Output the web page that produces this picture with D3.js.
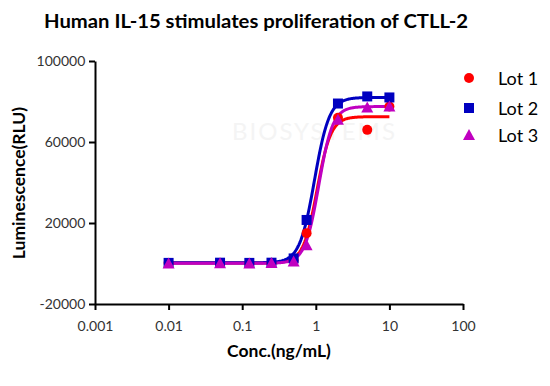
<!DOCTYPE html>
<html><head><meta charset="utf-8">
<script src="https://cdn.jsdelivr.net/npm/d3@7"></script>
<style>body{margin:0;background:#fff}svg{display:block}</style>
</head><body><svg id="c" width="550" height="386"></svg>
<script>
const conc = [0.01, 0.05, 0.125, 0.25, 0.5, 0.75, 2, 5, 10];
const lot1 = [200, 300, 200, 300, 1500, 15000, 72000, 66000, 77500];
const lot2 = [300, 400, 300, 400, 2500, 21500, 79000, 82500, 82000];
const lot3 = [0, 100, 0, 200, 1000, 9000, 71000, 77000, 77500];
const seriesNames = ["Lot 1", "Lot 2", "Lot 3"];
const seriesColors = ["#ff0000", "#0000c0", "#c000c0"];
const seriesShapes = ["circle", "square", "triangle"];
// 4-parameter logistic fits: [bottom, top, EC50, hill]
const fit1 = [250, 72500, 1.04, 4.6];
const fit2 = [350, 82000, 0.96, 4.3];
const fit3 = [100, 77500, 1.1, 4.6];
const xTicks = [0.001, 0.01, 0.1, 1, 10, 100];
const xTickLabels = ["0.001", "0.01", "0.1", "1", "10", "100"];
const yTicks = [-20000, 20000, 60000, 100000];
const yTickLabels = ["-20000", "20000", "60000", "100000"];

const svg = d3.select("#c");
const x = d3.scaleLog().domain([0.001, 100]).range([95, 463]);
const y = d3.scaleLinear().domain([-20000, 100000]).range([304, 61]);

const font = "Lato, 'Open Sans', sans-serif";

// faint watermark
svg.append("text").attr("x", 232).attr("y", 140).attr("font-family", font)
  .attr("font-size", 24).attr("fill", "#f4f4f4").attr("letter-spacing", 2).text("BIOSYSTEMS");

svg.append("text").attr("x", 256).attr("y", 28).attr("text-anchor", "middle")
  .attr("font-family", font).attr("font-weight", "bold").attr("font-size", 19)
  .attr("textLength", 424).attr("lengthAdjust", "spacingAndGlyphs")
  .attr("fill", "#000").text("Human IL-15 stimulates proliferation of CTLL-2");

const xAxis = svg.append("g").attr("transform", "translate(0,304)")
  .call(d3.axisBottom(x).tickValues(xTicks).tickFormat((d, i) => xTickLabels[i]).tickSize(6).tickSizeOuter(0));
const yAxis = svg.append("g").attr("transform", "translate(95,0)")
  .call(d3.axisLeft(y).tickValues(yTicks).tickFormat((d, i) => yTickLabels[i]).tickSize(6).tickSizeOuter(0));
[xAxis, yAxis].forEach(g => {
  g.select(".domain").attr("stroke", "#000").attr("stroke-width", 2);
  g.selectAll(".tick line").attr("stroke", "#000").attr("stroke-width", 2);
  g.selectAll(".tick text").attr("font-family", font).attr("font-size", 14).attr("fill", "#333");
});
xAxis.selectAll(".tick text").attr("dy", "1.25em");
yAxis.selectAll(".tick text").attr("dx", "-0.05em");

svg.append("text").attr("x", 279).attr("y", 357).attr("text-anchor", "middle")
  .attr("font-family", font).attr("font-weight", "bold").attr("font-size", 17.5).text("Conc.(ng/mL)");
svg.append("text").attr("transform", "translate(25,183) rotate(-90)").attr("text-anchor", "middle")
  .attr("font-family", font).attr("font-weight", "bold").attr("font-size", 17.5).text("Luminescence(RLU)");

const lots = [lot1, lot2, lot3];
const fits = [fit1, fit2, fit3];
const fx = d3.range(0, 301).map(i => Math.pow(10, -2 + i * 3 / 300));
const line = d3.line().x(d => x(d[0])).y(d => y(d[1]));

function symbol(g, shape, color, cx, cy) {
  if (shape === "circle") g.append("circle").attr("cx", cx).attr("cy", cy).attr("r", 5).attr("fill", color);
  else if (shape === "square") g.append("rect").attr("x", cx - 5).attr("y", cy - 5).attr("width", 10).attr("height", 10).attr("fill", color);
  else g.append("path").attr("d", `M${cx},${cy - 6}L${cx + 6},${cy + 5}L${cx - 6},${cy + 5}Z`).attr("fill", color);
}

lots.forEach((vals, s) => {
  const [b, t, c, h] = fits[s];
  const pts = fx.map(v => [v, b + (t - b) / (1 + Math.pow(c / v, h))]);
  svg.append("path").attr("d", line(pts)).attr("fill", "none")
    .attr("stroke", seriesColors[s]).attr("stroke-width", 3);
});
lots.forEach((vals, s) => {
  const g = svg.append("g");
  vals.forEach((v, i) => symbol(g, seriesShapes[s], seriesColors[s], x(conc[i]), y(v)));
});

// legend
const legY = [78, 108, 135];
seriesNames.forEach((n, s) => {
  symbol(svg, seriesShapes[s], seriesColors[s], 469, legY[s]);
  svg.append("text").attr("x", 498).attr("y", legY[s] + 7).attr("font-family", font)
    .attr("font-size", 18).attr("fill", "#000").text(n);
});
</script></body></html>
